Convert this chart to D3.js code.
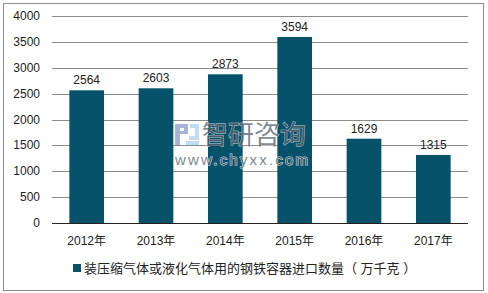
<!DOCTYPE html>
<html>
<head>
<meta charset="utf-8">
<script src="https://cdn.jsdelivr.net/npm/d3@7"></script>
<style>
body { margin: 0; background: #fff; }
svg text { font-family: "Liberation Sans", Arial, "Noto Sans CJK SC", sans-serif; }
</style>
</head>
<body>
<svg width="488" height="293"></svg>
<script>
const years = ["2012年", "2013年", "2014年", "2015年", "2016年", "2017年"];
const values = [2564, 2603, 2873, 3594, 1629, 1315];
const yTicks = [0, 500, 1000, 1500, 2000, 2500, 3000, 3500, 4000];
const seriesName = "装压缩气体或液化气体用的钢铁容器进口数量（ 万千克 ）";

const svg = d3.select("svg");
const barColor = "#06526b";

// outer frame
svg.append("rect")
    .attr("x", 3.5).attr("y", 3.5)
    .attr("width", 480).attr("height", 287)
    .attr("fill", "none").attr("stroke", "#8c8c8c");

const plotLeft = 52, plotRight = 468, plotTop = 16, plotBottom = 223;

const x = d3.scaleBand().domain(years).range([plotLeft, plotRight])
    .paddingInner(0.5).paddingOuter(0.25);
const y = d3.scaleLinear().domain([0, 4000]).range([plotBottom, plotTop]);

// gridlines
svg.append("g")
    .selectAll("line")
    .data(yTicks.filter(d => d > 0))
    .join("line")
    .attr("x1", plotLeft).attr("x2", plotRight)
    .attr("y1", d => Math.round(y(d)) + 0.5)
    .attr("y2", d => Math.round(y(d)) + 0.5)
    .attr("stroke", "#8a8a8a");

// y labels
svg.append("g")
    .selectAll("text")
    .data(yTicks)
    .join("text")
    .attr("x", 40)
    .attr("y", d => y(d) + 4)
    .attr("text-anchor", "end")
    .attr("font-size", 12)
    .attr("fill", "#222")
    .text(d => d);

// bars
svg.append("g")
    .selectAll("rect")
    .data(values)
    .join("rect")
    .attr("x", (d, i) => x(years[i]))
    .attr("y", d => y(d))
    .attr("width", x.bandwidth())
    .attr("height", d => plotBottom - y(d))
    .attr("fill", barColor);

// value labels
svg.append("g")
    .selectAll("text")
    .data(values)
    .join("text")
    .attr("x", (d, i) => x(years[i]) + x.bandwidth() / 2)
    .attr("y", d => y(d) - 6)
    .attr("text-anchor", "middle")
    .attr("font-size", 12)
    .attr("fill", "#222")
    .text(d => d);

// baseline
svg.append("line")
    .attr("x1", plotLeft).attr("x2", plotRight)
    .attr("y1", plotBottom + 0.5).attr("y2", plotBottom + 0.5)
    .attr("stroke", "#222");

// watermark (drawn over the bars)
const wm = svg.append("g").attr("opacity", 0.75);
wm.append("path")
    .attr("d", "M175,124h13v10h-8v11h-5z M180,128v3h4v-3z")
    .attr("fill", "#8a9cc8").attr("fill-rule", "evenodd");
wm.append("path")
    .attr("d", "M190,124h9v16h-10v-4h6v-8h-5z M186,141h13v4h-13z")
    .attr("fill", "#a9d2ee");
wm.append("text")
    .attr("x", 202).attr("y", 144)
    .attr("font-size", 26)
    .attr("fill", "#59626c")
    .attr("stroke", "#fff").attr("stroke-width", 0.8)
    .attr("paint-order", "stroke")
    .text("智研咨询");
wm.append("text")
    .attr("x", 175).attr("y", 165)
    .attr("font-size", 15)
    .attr("letter-spacing", 2.2)
    .attr("fill", "#59626c")
    .attr("stroke", "#fff").attr("stroke-width", 1.2)
    .attr("paint-order", "stroke")
    .text("www.chyxx.com");

// x labels
svg.append("g")
    .selectAll("text")
    .data(years)
    .join("text")
    .attr("x", d => x(d) + x.bandwidth() / 2)
    .attr("y", 245)
    .attr("text-anchor", "middle")
    .attr("font-size", 12)
    .attr("fill", "#222")
    .text(d => d);

// legend
svg.append("rect")
    .attr("x", 73).attr("y", 264)
    .attr("width", 8).attr("height", 8)
    .attr("fill", barColor);
svg.append("text")
    .attr("x", 84).attr("y", 273)
    .attr("font-size", 13)
    .attr("fill", "#222")
    .text(seriesName);
</script>
</body>
</html>
